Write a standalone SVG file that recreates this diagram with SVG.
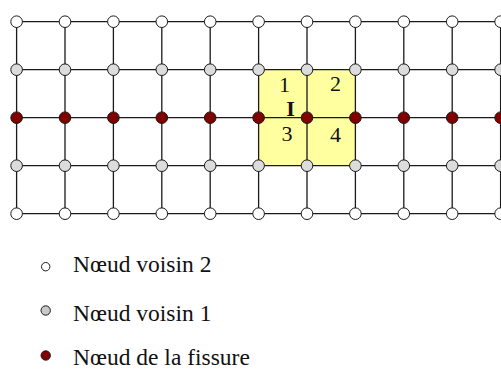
<svg xmlns="http://www.w3.org/2000/svg" width="501" height="369" viewBox="0 0 501 369">
<style>
.g{stroke:#1a1a1a;stroke-width:1.3;fill:none}
.n{stroke:#1a1a1a;stroke-width:1}
.w{fill:#ffffff}
.y{fill:#dcdcdc}
.r{fill:#800000}
.t{font-family:"Liberation Serif","Times New Roman",serif;fill:#111}
</style>
<rect width="501" height="369" fill="#ffffff"/>
<rect id="zone" x="258.6" y="69.7" width="96.8" height="96" fill="#ffffa0"/>
<g id="connectors" class="g">
<path d="M16.6 21.7H501M16.6 69.7H501M16.6 117.7H501M16.6 165.7H501M16.6 213.7H501"/>
<path d="M16.6 21.7V213.7M65 21.7V213.7M113.4 21.7V213.7M161.8 21.7V213.7M210.2 21.7V213.7M258.6 21.7V213.7M307 21.7V213.7M355.4 21.7V213.7M403.8 21.7V213.7M452.2 21.7V213.7M500.6 21.7V213.7"/>
</g>
<g id="row0" class="n w">
<circle cx="16.6" cy="21.7" r="5.8"/><circle cx="65" cy="21.7" r="5.8"/><circle cx="113.4" cy="21.7" r="5.8"/><circle cx="161.8" cy="21.7" r="5.8"/><circle cx="210.2" cy="21.7" r="5.8"/><circle cx="258.6" cy="21.7" r="5.8"/><circle cx="307" cy="21.7" r="5.8"/><circle cx="355.4" cy="21.7" r="5.8"/><circle cx="403.8" cy="21.7" r="5.8"/><circle cx="452.2" cy="21.7" r="5.8"/><circle cx="500.6" cy="21.7" r="5.8"/>
</g>
<g id="row1" class="n y">
<circle cx="16.6" cy="69.7" r="5.8"/><circle cx="65" cy="69.7" r="5.8"/><circle cx="113.4" cy="69.7" r="5.8"/><circle cx="161.8" cy="69.7" r="5.8"/><circle cx="210.2" cy="69.7" r="5.8"/><circle cx="258.6" cy="69.7" r="5.8"/><circle cx="307" cy="69.7" r="5.8"/><circle cx="355.4" cy="69.7" r="5.8"/><circle cx="403.8" cy="69.7" r="5.8"/><circle cx="452.2" cy="69.7" r="5.8"/><circle cx="500.6" cy="69.7" r="5.8"/>
</g>
<g id="row2" class="n r">
<circle cx="16.6" cy="117.7" r="5.8"/><circle cx="65" cy="117.7" r="5.8"/><circle cx="113.4" cy="117.7" r="5.8"/><circle cx="161.8" cy="117.7" r="5.8"/><circle cx="210.2" cy="117.7" r="5.8"/><circle cx="258.6" cy="117.7" r="5.8"/><circle cx="307" cy="117.7" r="5.8"/><circle cx="355.4" cy="117.7" r="5.8"/><circle cx="403.8" cy="117.7" r="5.8"/><circle cx="452.2" cy="117.7" r="5.8"/><circle cx="500.6" cy="117.7" r="5.8"/>
</g>
<g id="row3" class="n y">
<circle cx="16.6" cy="165.7" r="5.8"/><circle cx="65" cy="165.7" r="5.8"/><circle cx="113.4" cy="165.7" r="5.8"/><circle cx="161.8" cy="165.7" r="5.8"/><circle cx="210.2" cy="165.7" r="5.8"/><circle cx="258.6" cy="165.7" r="5.8"/><circle cx="307" cy="165.7" r="5.8"/><circle cx="355.4" cy="165.7" r="5.8"/><circle cx="403.8" cy="165.7" r="5.8"/><circle cx="452.2" cy="165.7" r="5.8"/><circle cx="500.6" cy="165.7" r="5.8"/>
</g>
<g id="row4" class="n w">
<circle cx="16.6" cy="213.7" r="5.8"/><circle cx="65" cy="213.7" r="5.8"/><circle cx="113.4" cy="213.7" r="5.8"/><circle cx="161.8" cy="213.7" r="5.8"/><circle cx="210.2" cy="213.7" r="5.8"/><circle cx="258.6" cy="213.7" r="5.8"/><circle cx="307" cy="213.7" r="5.8"/><circle cx="355.4" cy="213.7" r="5.8"/><circle cx="403.8" cy="213.7" r="5.8"/><circle cx="452.2" cy="213.7" r="5.8"/><circle cx="500.6" cy="213.7" r="5.8"/>
</g>
<g id="labels" class="t" font-size="22" text-anchor="middle">
<text x="284.5" y="91.5">1</text>
<text x="335.5" y="90.5">2</text>
<text x="290.5" y="116" font-weight="bold">I</text>
<text x="287" y="140.5">3</text>
<text x="335.5" y="141.5">4</text>
</g>
<g id="legend">
<circle class="n w" cx="45.7" cy="266.7" r="4.2"/>
<circle class="n" fill="#c8c8c8" cx="45.7" cy="310.5" r="4.7"/>
<circle class="n r" cx="45.7" cy="355.5" r="4.7"/>
<g class="t" font-size="23.5">
<text x="73" y="271.7">Nœud voisin 2</text>
<text x="73" y="320.7">Nœud voisin 1</text>
<text x="73" y="365">Nœud de la fissure</text>
</g>
</g>
</svg>
